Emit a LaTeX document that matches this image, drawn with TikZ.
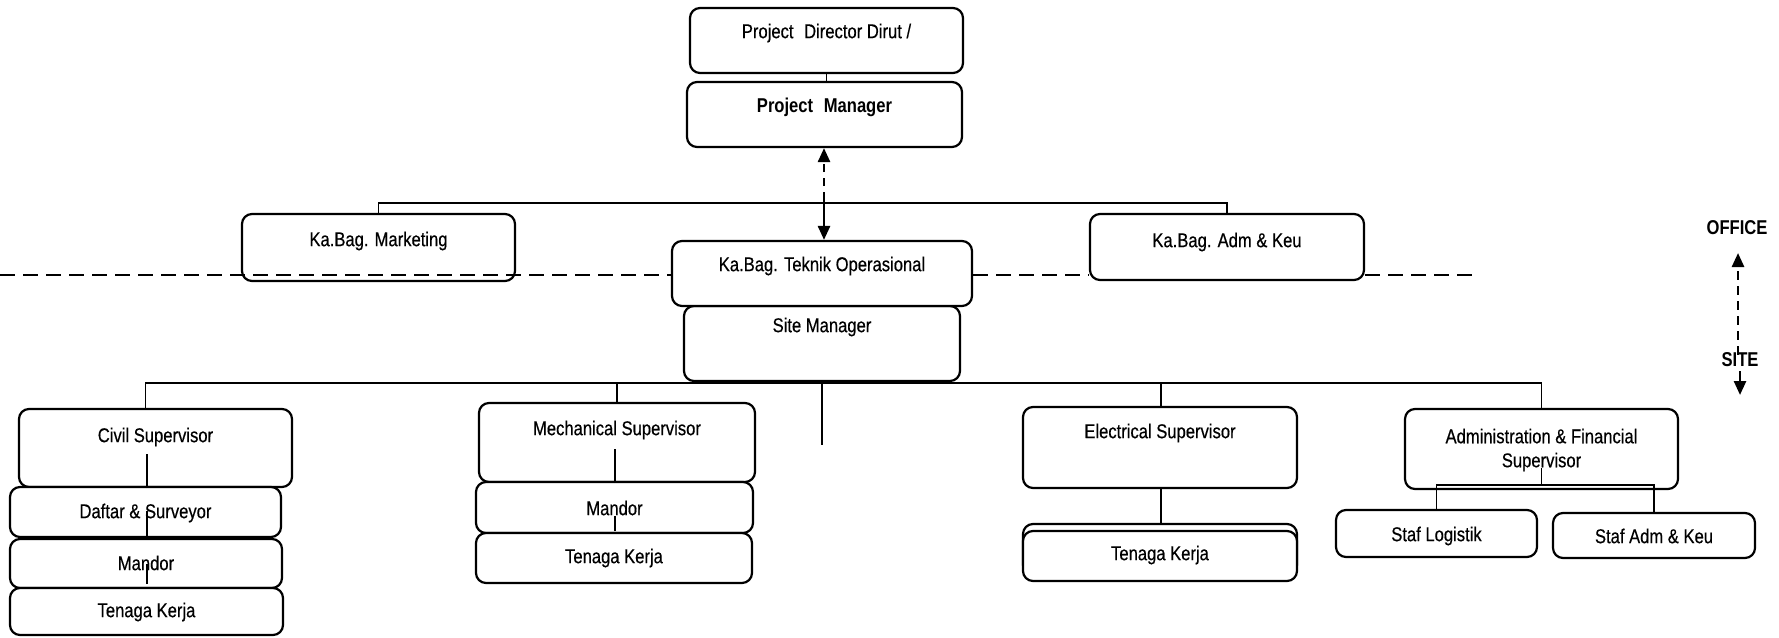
\documentclass[tikz,border=0pt]{standalone}
\usepackage{fontspec}
\newfontfamily\arialn[FakeStretch=0.83,FakeBold=0.4]{Liberation Sans}
\newfontfamily\arialnb[FakeStretch=0.83]{Liberation Sans Bold}
\usetikzlibrary{arrows.meta,calc}
\begin{document}
\begin{tikzpicture}[x=1pt,y=-1pt,
  box/.style={draw, line width=2.2pt, rounded corners=10pt, fill=white, inner sep=0pt},
  txt/.style={font=\arialn\fontsize{20}{24}\selectfont, inner sep=0pt, align=center},
  txtb/.style={font=\arialnb\fontsize{20}{24}\selectfont, inner sep=0pt, align=center},
  conn/.style={line width=1.9pt},
  dsh/.style={line width=2pt, dash pattern=on 15pt off 8pt},
  tip/.style={-{Triangle[length=14pt,width=12pt]}}]
\useasboundingbox (0,0) rectangle (1779,637);
\fill[white] (0,0) rectangle (1779,637);

% boxes
\node[box, minimum width=273pt, minimum height=65pt] (pd) at (826.5,40.5) {};
\node[box, minimum width=275pt, minimum height=65pt] (pm) at (824.5,114.5) {};
\node[box, minimum width=273pt, minimum height=67pt] (mkt) at (378.5,247.5) {};
\node[box, minimum width=274pt, minimum height=66pt] (adm) at (1227,247) {};
\node[box, minimum width=276pt, minimum height=75pt] (site) at (822,343.5) {};
\node[box, minimum width=300pt, minimum height=65pt] (tek) at (822,273.5) {};
\node[box, minimum width=273pt, minimum height=78pt] (civ) at (155.5,448) {};
\node[box, minimum width=271pt, minimum height=50pt] (daf) at (145.5,512) {};
\node[box, minimum width=272pt, minimum height=49pt] (man1) at (146,563.5) {};
\node[box, minimum width=273pt, minimum height=47pt] (ten1) at (146.5,611.5) {};
\node[box, minimum width=276pt, minimum height=79pt] (mech) at (617,442.5) {};
\node[box, minimum width=277pt, minimum height=51pt] (man2) at (614.5,507.5) {};
\node[box, minimum width=276pt, minimum height=50pt] (ten2) at (614,558) {};
\node[box, minimum width=274pt, minimum height=81pt] (elec) at (1160,447.5) {};
\node[box, minimum width=274pt, minimum height=51pt] (ten3b) at (1160,549.5) {};
\node[box, minimum width=274pt, minimum height=50pt] (ten3) at (1160,556) {};
\node[box, minimum width=273pt, minimum height=80pt] (afs) at (1541.5,449) {};
\node[box, minimum width=201pt, minimum height=47pt] (slog) at (1436.5,533.5) {};
\node[box, minimum width=202pt, minimum height=45pt] (sadm) at (1654,535.5) {};

% texts
\node[txt] (tpd) at (826.5,33) {Project\hspace{6pt} Director Dirut /};
\node[txtb] (tpm) at (824.5,107) {Project\hspace{6pt} Manager};
\node[txt] (tmkt) at (378.5,241) {Ka.Bag. Marketing};
\node[txt] (tadm) at (1227,242) {Ka.Bag. Adm \& Keu};
\node[txt] (ttek) at (822,266) {Ka.Bag. Teknik Operasional};
\node[txt] (tsite) at (822,327) {Site Manager};
\node[txt] (tciv) at (155.5,437) {Civil Supervisor};
\node[txt] (tdaf) at (145.5,513) {Daftar \& Surveyor};
\node[txt] (tman1) at (146,563) {Mandor};
\node[txt] (tten1) at (146.5,612) {Tenaga Kerja};
\node[txt] (tmech) at (617,430) {Mechanical Supervisor};
\node[txt] (tman2) at (614.5,508) {Mandor};
\node[txt] (tten2) at (614,558) {Tenaga Kerja};
\node[txt] (telec) at (1160,433) {Electrical Supervisor};
\node[txt] (tten3) at (1160,555) {Tenaga Kerja};
\node[txt, text depth=0pt] (tafs) at (1541.5,448) {Administration \& Financial\\Supervisor};
\node[txt] (tslog) at (1436.5,536) {Staf Logistik};
\node[txt] (tsadm) at (1654,536) {Staf Adm \& Keu};
\node[txtb] (off) at (1737,228) {OFFICE};
\node[txtb] (sitel) at (1740,360) {SITE};

% connectors
\draw[conn] (pd.south) -- (pd.south |- pm.north);
\coordinate (amid) at (824,200);
\draw[line width=2.6pt, dash pattern=on 8pt off 6pt, tip] (amid) -- (pm.south -| amid);
\draw[line width=2.6pt, tip] (amid) -- (tek.north -| amid);

\coordinate (topbar) at (0,203);
\draw[conn] (mkt.north) |- (adm.north |- topbar) -- (adm.north);

\coordinate (lowbar) at (0,383);
\draw[conn] ([xshift=-10pt]civ.north) |- (afs.north |- lowbar) -- (afs.north);
\draw[conn] (mech.north) -- (mech.north |- lowbar);
\draw[conn] ([xshift=1pt]elec.north) -- ([xshift=1pt]elec.north |- lowbar);
\coordinate (stub) at (822,445);
\draw[conn] (site.south) -- (stub);

\draw[conn] ([xshift=-8.5pt]civ.south) -- ++(0,-34);
\draw[conn] ([xshift=1.5pt]daf.south) -- ++(0,-27);
\draw[conn] ([xshift=1pt,yshift=5pt]man1.south) -- ++(0,-20);
\draw[conn] ([xshift=-2pt]mech.south) -- ++(0,-34);
\draw[conn] ([xshift=0.5pt,yshift=3pt]man2.south) -- ++(0,-15);
\draw[conn] ([xshift=1pt]elec.south) -- ([xshift=1pt]ten3b.north);

\coordinate (abar) at (0,485);
\draw[conn] ([yshift=22pt]afs.south) -- (afs.south |- abar);
\draw[conn] (slog.north) |- (sadm.north |- abar) -- (sadm.north);

% office / site boundary
\coordinate (dl) at (0,275);
\coordinate (dr) at (1475,275);
\draw[dsh] (dl) -- (tek.west |- dl);
\draw[dsh] (tek.east |- dl) -- (adm.west |- dl);
\draw[dsh] (adm.east |- dl) -- (dr);

\coordinate (oup) at (1738,253);
\coordinate (odn) at (1740,395);
\draw[line width=2.6pt, dash pattern=on 9pt off 6pt, tip] ([xshift=-2pt,yshift=-2pt]sitel.north) -- (oup);
\draw[line width=2.6pt, tip] ([yshift=-4pt]sitel.south) -- (odn);
\end{tikzpicture}
\end{document}
